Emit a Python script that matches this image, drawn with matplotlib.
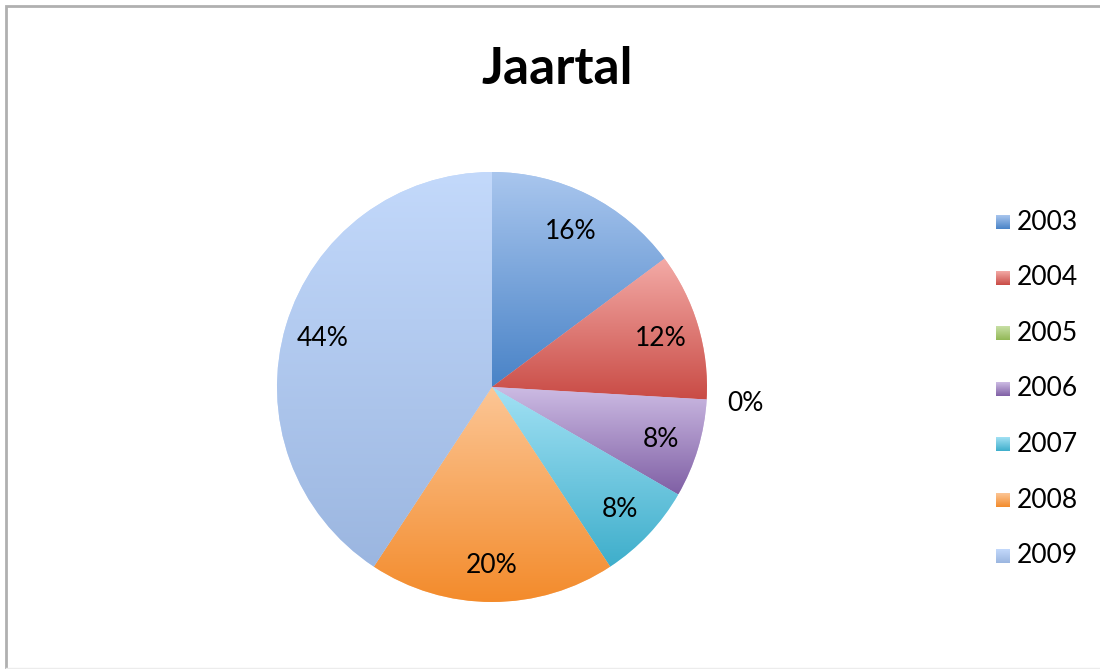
import numpy as np
import matplotlib.pyplot as plt
from matplotlib.colors import LinearSegmentedColormap
from matplotlib.patches import Rectangle

plt.rcParams['font.family'] = ['Lato', 'DejaVu Sans']

# data
years = ['2003', '2004', '2005', '2006', '2007', '2008', '2009']
counts = [4, 3, 0, 2, 2, 5, 11]
labels = ['16%', '12%', '0%', '8%', '8%', '20%', '44%']

# top (light) / bottom (dark) colours of each slice
top_cols = ['#a9c6ee', '#f3aaa6', '#c8e0a6', '#cdbce4', '#a2e1f4', '#fcc696', '#c3d9fb']
bot_cols = ['#4983c7', '#c94b45', '#92b856', '#8060a5', '#3eaecb', '#f38b2b', '#9bb6e0']

fig = plt.figure(figsize=(11, 6.69), dpi=100)
ax = fig.add_axes([0, 0, 1, 1])

cx, cy, R = 492, 282, 215
wedges, _ = ax.pie(counts, startangle=90, counterclock=False, radius=R,
                   center=(cx, cy), frame=True,
                   colors=bot_cols, wedgeprops=dict(linewidth=0))
ax.set_xlim(0, 1100)
ax.set_ylim(0, 669)
ax.set_aspect('equal')
ax.axis('off')

# chart border
ax.add_patch(Rectangle((6, -10), 1200, 673, fill=False, edgecolor='#b0b0b0', lw=2))
ax.plot([6, 1100], [1, 1], color='#ececec', lw=1)

grad = np.linspace(0, 1, 256).reshape(-1, 1)
for w, t, b in zip(wedges, top_cols, bot_cols):
    if w.theta2 - w.theta1 <= 0:
        continue
    bb = w.get_path().get_extents()
    cmap = LinearSegmentedColormap.from_list('g', [b, t])
    im = ax.imshow(grad, cmap=cmap, origin='lower', aspect='auto',
                   extent=[bb.x0, bb.x1, bb.y0, bb.y1], zorder=2)
    im.set_clip_path(w)
    w.set_facecolor(t)

# percentage labels
for w, lab in zip(wedges, labels):
    mid = np.deg2rad((w.theta1 + w.theta2) / 2)
    d = 0.82 * R if w.theta2 - w.theta1 > 0 else 1.18 * R
    ax.text(cx + d * np.cos(mid), cy + d * np.sin(mid) - 2, lab,
            ha='center', va='center', fontsize=19, zorder=3)

# legend
for i, (yr, t, b) in enumerate(zip(years, top_cols, bot_cols)):
    y = 669 - 222 - i * 55.6
    cmap = LinearSegmentedColormap.from_list('g', [b, t])
    ax.imshow(grad, cmap=cmap, origin='lower', aspect='auto',
              extent=[996, 1010, y - 7, y + 7], zorder=2)
    ax.text(1017, y, yr, ha='left', va='center', fontsize=19)

ax.set_xlim(0, 1100)
ax.set_ylim(0, 669)

fig.text(557, 669 - 70, 'Jaartal', transform=None, ha='center', va='center',
         fontsize=37, fontweight='bold')

fig.savefig('out.png', dpi=100)
